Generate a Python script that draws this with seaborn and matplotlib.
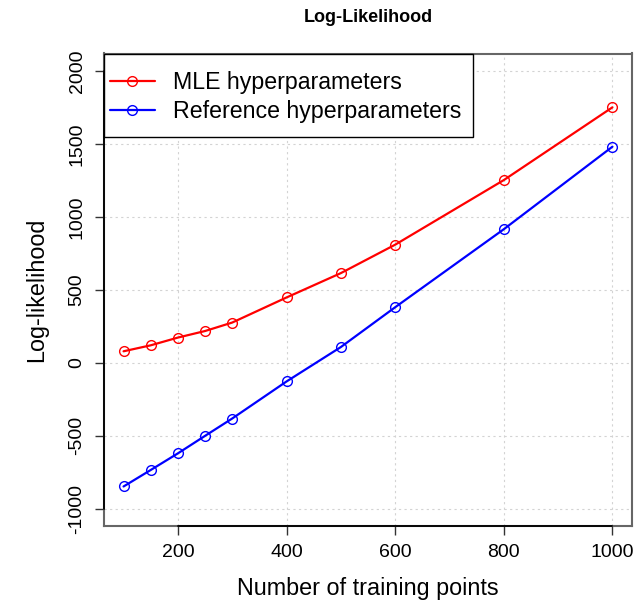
import numpy as np
import pandas as pd
import matplotlib
matplotlib.use("Agg")
import matplotlib.pyplot as plt
from matplotlib.patches import Rectangle
import seaborn as sns

n_points = [100, 150, 200, 250, 300, 400, 500, 600, 800, 1000]
mle_ll = [78, 119, 172, 217, 275, 447, 614, 809, 1252, 1751]
ref_ll = [-849, -736, -622, -502, -383, -129, 107, 380, 915, 1481]
series_names = ["MLE hyperparameters", "Reference hyperparameters"]
series_colors = ["#ff0000", "#0000ff"]
x_ticks = [200, 400, 600, 800, 1000]
y_ticks = [-1000, -500, 0, 500, 1000, 1500, 2000]

df = pd.DataFrame({
    "n": n_points * 2,
    "ll": mle_ll + ref_ll,
    "series": [series_names[0]] * len(n_points) + [series_names[1]] * len(n_points),
})

sns.set_style("white")
plt.rcParams["font.family"] = ["Liberation Sans", "DejaVu Sans"]
plt.rcParams["text.color"] = "black"
plt.rcParams["axes.labelcolor"] = "black"
plt.rcParams["xtick.color"] = "black"
plt.rcParams["ytick.color"] = "black"

W, H = 644, 602
fig = plt.figure(figsize=(W / 100, H / 100), dpi=100)
ax = fig.add_axes([104 / W, 1 - 526 / H, (632 - 104) / W, (526 - 53.5) / H])

for name, col in zip(series_names, series_colors):
    sub = df[df["series"] == name]
    sns.lineplot(data=sub, x="n", y="ll", ax=ax, color=col, linewidth=1.6,
                 marker="o", markersize=7, markerfacecolor="none",
                 markeredgecolor=col, markeredgewidth=1.0, label=name)

ax.set_xlim(64, 1036)
ax.set_ylim(-1120, 2120)
ax.set_xticks(x_ticks)
ax.set_yticks(y_ticks)
ax.set_yticklabels([str(v) for v in y_ticks], rotation=90, va="center")
ax.tick_params(axis="both", direction="out", length=6.3, width=1.0, color="#333333",
               labelsize=14, pad=7, left=True, bottom=True)
ax.grid(True, color="#d3d3d3", linestyle=(0, (2, 3)), linewidth=0.8)
for sp in ax.spines.values():
    sp.set_color("#666666")
    sp.set_linewidth(1.5)

# R-style axis lines spanning first to last tick
ax.plot([200, 1000], [0, 0], transform=ax.get_xaxis_transform(), color="black",
        linewidth=1.3, clip_on=False, zorder=5)
ax.plot([0, 0], [-1000, 2000], transform=ax.get_yaxis_transform(), color="black",
        linewidth=1.3, clip_on=False, zorder=5)

ax.set_xlabel("Number of training points", fontsize=16.8, labelpad=11)
ax.set_ylabel("Log-likelihood", fontsize=16.8, labelpad=15)
fig.text(368 / W, 1 - 17 / H, "Log-Likelihood", fontsize=13, fontweight="bold",
         ha="center", va="center")

# legend box (R style, square frame)
box = Rectangle((104 / W, 1 - 137 / H), (473 - 104) / W, (137 - 53.5) / H,
                transform=fig.transFigure, facecolor="white", edgecolor="black",
                linewidth=1.0, zorder=6)
fig.add_artist(box)
leg = ax.legend(loc="upper left", bbox_to_anchor=(110 / W, 1 - 71 / H),
                bbox_transform=fig.transFigure, borderaxespad=0, borderpad=0,
                fontsize=16.7, frameon=False, handlelength=1.93, handletextpad=0.8,
                labelspacing=0.26)
leg.set_zorder(7)
leg.remove()
fig.add_artist(leg)

fig.savefig("out.png", dpi=100)
